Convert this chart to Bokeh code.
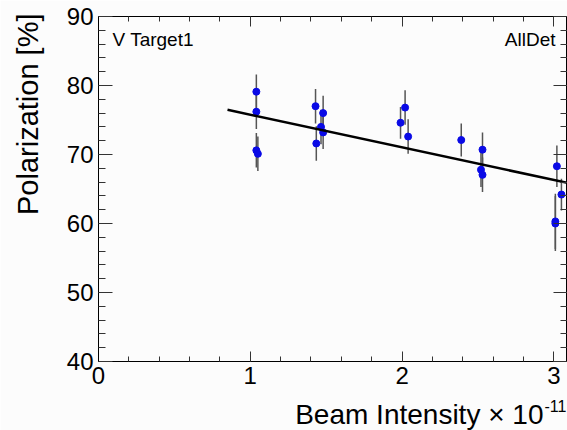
from bokeh.plotting import figure
from bokeh.models import LinearAxis, SingleIntervalTicker, Range1d, Label, ColumnDataSource
from bokeh.embed import file_html
from bokeh.resources import INLINE

# ---- data ----
intensity = [1.04, 1.04, 1.04, 1.05, 1.43, 1.435, 1.466, 1.48, 1.48,
             1.99, 2.02, 2.04, 2.39, 2.53, 2.52, 2.53, 3.02, 3.05, 3.01, 3.01]
polarization = [79.1, 76.2, 70.6, 70.1, 77.0, 71.6, 74.0, 76.0, 73.2,
                74.6, 76.8, 72.6, 72.1, 70.7, 67.8, 67.05, 68.3, 64.2, 60.3, 60.0]
pol_err = [2.5, 2.5, 2.5, 2.5, 2.5, 2.5, 2.5, 2.5, 2.4,
           2.3, 2.5, 2.5, 2.4, 2.5, 2.5, 2.5, 3.0, 2.3, 4.0, 4.0]
fit_intercept = 80.5
fit_slope = -4.73
fit_x = [0.85, 3.09]
x_label = "Beam Intensity \u00d7 10"
x_label_exp = "-11"
y_label = "Polarization [%]"
left_tag = "V Target1"
right_tag = "AllDet"

FONT = "Liberation Sans"
XMAX = 3.09

src = ColumnDataSource(dict(
    x=intensity, y=polarization,
    lo=[v - e for v, e in zip(polarization, pol_err)],
    hi=[v + e for v, e in zip(polarization, pol_err)],
))
fit_src = ColumnDataSource(dict(x=fit_x, y=[fit_intercept + fit_slope * v for v in fit_x]))

p = figure(width=567, height=430, output_backend="svg", toolbar_location=None,
           x_range=Range1d(0, XMAX), y_range=Range1d(40, 90),
           min_border_left=98, min_border_right=0, min_border_top=16, min_border_bottom=69,
           x_axis_type=None, y_axis_type=None)
p.background_fill_color = "#fcfcfc"
p.border_fill_color = "#fcfcfc"
p.outline_line_color = "black"
p.grid.visible = False


def style_axis(ax, major_in, minor_in, labels=True):
    ax.major_tick_in = major_in
    ax.major_tick_out = 0
    ax.minor_tick_in = minor_in
    ax.minor_tick_out = 0
    ax.axis_line_color = "black"
    ax.major_tick_line_color = "#333333"
    ax.minor_tick_line_color = "#333333"
    if labels:
        ax.major_label_text_font = FONT
        ax.major_label_text_font_size = "24px"
        ax.major_label_text_color = "black"
    else:
        ax.major_label_text_font_size = "0px"
        ax.major_label_standoff = 0


xt = SingleIntervalTicker(interval=1, num_minor_ticks=5)
yt = SingleIntervalTicker(interval=10, num_minor_ticks=5)

xb = LinearAxis(ticker=xt)
style_axis(xb, 10, 5)
xb.major_label_standoff = 5
p.add_layout(xb, "below")

xa = LinearAxis(ticker=xt)
style_axis(xa, 10, 5, labels=False)
p.add_layout(xa, "above")

yl = LinearAxis(ticker=yt)
style_axis(yl, 14, 7)
yl.major_label_standoff = 5
p.add_layout(yl, "left")

yr = LinearAxis(ticker=yt)
style_axis(yr, 14, 7, labels=False)
p.add_layout(yr, "right")

# error bars, points, fit
p.segment(x0="x", y0="lo", x1="x", y1="hi", source=src, line_color="#555555", line_width=1.5)
p.scatter(x="x", y="y", source=src, size=7, marker="circle", fill_color="#0a0ae6", line_color="#0a0ae6")
p.line(x="x", y="y", source=fit_src, line_color="black", line_width=2.5)

# pixel -> data helpers (frame: left 98, top 16; 468 x 345 px)
def dx(px):
    return (px - 98) * XMAX / 468.0

def dy(py):
    return 90 - (py - 16) * 50 / 345.0

p.add_layout(Label(x=dx(112), y=dy(39), text=left_tag, text_font=FONT, text_font_size="19px",
                   text_align="left", text_baseline="alphabetic", text_color="black"))
p.add_layout(Label(x=dx(554), y=dy(39), text=right_tag, text_font=FONT, text_font_size="19px",
                   text_align="right", text_baseline="alphabetic", text_color="black"))

# axis titles, ROOT style (aligned to the far end), placed in the side panels
p.add_layout(Label(x=dx(542), y=dy(414), text=x_label, text_font=FONT, text_font_size="28px",
                   text_align="right", text_baseline="alphabetic", text_color="black"), "below")
p.add_layout(Label(x=dx(543), y=dy(405), text=x_label_exp, text_font=FONT, text_font_size="16px",
                   text_align="left", text_baseline="alphabetic", text_color="black"), "below")
p.add_layout(Label(x=dx(28), y=dy(13), text=y_label, text_font=FONT, text_font_size="29px",
                   angle=1.5707963, text_align="right", text_baseline="alphabetic",
                   text_color="black"), "left")

open("out.html", "w").write(file_html(p, INLINE))
